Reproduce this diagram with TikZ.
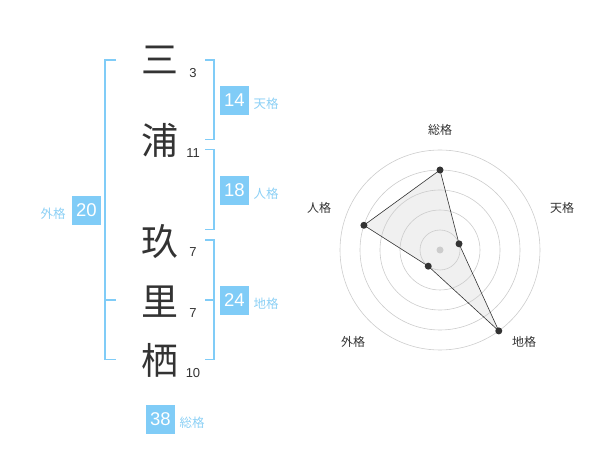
\documentclass[tikz,border=0pt]{standalone}
\usepackage{fontspec}
\setmainfont{Liberation Sans}
\newfontfamily\jp{Noto Sans CJK JP}
\usetikzlibrary{positioning}
\definecolor{kakublue}{HTML}{80CCF7}
\definecolor{kakutext}{HTML}{8CD0F5}
\definecolor{ink}{HTML}{333333}
\definecolor{ring}{HTML}{CCCCCC}

\begin{document}
\begin{tikzpicture}[x=1pt, y=-1pt,
    kanji/.style={text=ink, font=\jp\fontsize{37}{37}\selectfont, inner sep=0pt},
    stroke/.style={text=ink, font=\fontsize{13}{13}\selectfont, inner sep=0pt},
    kbox/.style={fill=kakublue, text=white, minimum size=29pt, inner sep=0pt, font=\fontsize{18.5}{18.5}\selectfont},
    klabel/.style={text=kakutext, font=\jp\fontsize{12.5}{12.5}\selectfont, inner sep=0pt},
    bracket/.style={draw=kakublue, line width=1.6pt},
    axis/.style={text=ink, font=\jp\fontsize{12}{12}\selectfont, inner sep=0pt},
    dot/.style={circle, fill=ink, inner sep=0pt, minimum size=7pt}]
    \useasboundingbox (0,0) rectangle (600,470);
    % name
    \node[kanji] (c1) at (160,60) {三};
    \node[kanji] (c2) at (160,140) {浦};
    \node[kanji] (c3) at (160,242) {玖};
    \node[kanji] (c4) at (160,302) {里};
    \node[kanji] (c5) at (160,360) {栖};
    \node[stroke] (n1) at (193,73) {3};
    \node[stroke] (n2) at (193,153) {11};
    \node[stroke] (n3) at (193,252) {7};
    \node[stroke] (n4) at (193,313) {7};
    \node[stroke] (n5) at (193,373) {10};
    % brackets
    \draw[bracket]
    (116,60) -- (105,60) -- (105,359.5) -- (116,359.5)
    (105,300) -- (116,300);
    \draw[bracket]
    (205,60) -- (214,60) -- (214,139.5) -- (205,139.5)
    (205,149.5) -- (214,149.5) -- (214,229.5) -- (205,229.5)
    (205,240) -- (214,240) -- (214,359.5) -- (205,359.5)
    (205,300) -- (214,300);
    % scores
    \node[kbox] (ten) at (234.5,100.5) {14};
    \node[kbox] (jin) at (234.5,190.5) {18};
    \node[kbox] (gai) at (86.5,210.5) {20};
    \node[kbox] (chi) at (234.5,300.5) {24};
    \node[kbox] (sou) at (160.5,419.5) {38};
    \node[klabel] (tenl) at (266,104) {天格};
    \node[klabel] (jinl) at (266,194) {人格};
    \node[klabel] (gail) at (53,214) {外格};
    \node[klabel] (chil) at (266,304) {地格};
    \node[klabel] (soul) at (192,423) {総格};
    % radar
    \begin{scope}[shift={(440,250)}, x=1pt, y=1pt]
        \coordinate (rsou) at (90:80);
        \coordinate (rten) at (18:20);
        \coordinate (rchi) at (-54:100);
        \coordinate (rgai) at (-126:20);
        \coordinate (rjin) at (162:80);
        \fill[black!6] (rsou) -- (rten) -- (rchi) -- (rgai) -- (rjin) -- cycle;
        \foreach \r in {20,40,...,100}
        \draw[ring, line width=0.6pt] (0,0) circle (\r);
        \draw[ink, line width=0.6pt]
        (rsou) -- (rten) -- (rchi) -- (rgai) -- (rjin) -- cycle;
        \fill[ring] (0,0) circle (3.5);
        \foreach \p in {rsou,rten,rchi,rgai,rjin}
        \node[dot] at (\p) {};
    \end{scope}
    \node[axis] (asou) at (440,130) {総格};
    \node[axis] (aten) at (562,208) {天格};
    \node[axis] (achi) at (524,342) {地格};
    \node[axis] (agai) at (353,342) {外格};
    \node[axis] (ajin) at (319,208) {人格};
\end{tikzpicture}
\end{document}
